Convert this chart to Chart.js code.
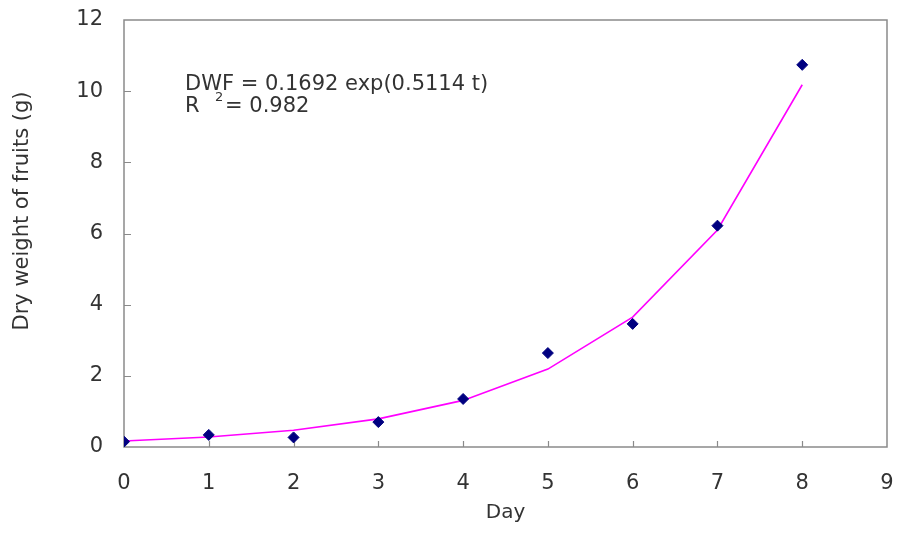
<!DOCTYPE html>
<html>
<head>
<meta charset="utf-8">
<script src="https://cdn.jsdelivr.net/npm/chart.js@4/dist/chart.umd.min.js"></script>
<style>
  html, body { margin: 0; padding: 0; background: #ffffff; }
  #wrap { width: 898px; height: 536px; }
</style>
</head>
<body>
<div id="wrap"><canvas id="c" width="898" height="536"></canvas></div>
<script>
// Fruit dry weight by day, with the fitted exponential curve
const days = [0, 1, 2, 3, 4, 5, 6, 7, 8];
const dryWeight = [0.15, 0.34, 0.27, 0.70, 1.35, 2.64, 3.46, 6.22, 10.74];
const fittedWeight = [0.17, 0.28, 0.47, 0.79, 1.31, 2.19, 3.65, 6.10, 10.18];
const xTicks = [0, 1, 2, 3, 4, 5, 6, 7, 8, 9];
const yTicks = [0, 2, 4, 6, 8, 10, 12];
const equationText = 'DWF = 0.1692 exp(0.5114 t)';
const r2Text = '= 0.982';
const yTitle = 'Dry weight of fruits (g)';

const FONT = 'DejaVu Sans';
const TEXT = '#333333';
const AXIS = '#8a8a8a';

const observed = days.map((d, i) => ({ x: d, y: dryWeight[i] }));
const fitted = days.map((d, i) => ({ x: d, y: fittedWeight[i] }));

// Plot frame, inward tick marks, y title and the equation label
const decorations = {
  id: 'decorations',
  beforeDatasetsDraw(chart) {
    const { ctx, chartArea: a, scales: { x, y } } = chart;
    ctx.save();
    ctx.strokeStyle = AXIS;
    ctx.lineWidth = 1.5;
    ctx.strokeRect(a.left, a.top, a.right - a.left, a.bottom - a.top);
    ctx.lineWidth = 1.2;
    ctx.beginPath();
    xTicks.slice(1, -1).forEach(v => {
      const px = Math.round(x.getPixelForValue(v)) + 0.5;
      ctx.moveTo(px, a.bottom);
      ctx.lineTo(px, a.bottom - 6);
    });
    yTicks.slice(1, -1).forEach(v => {
      const py = Math.round(y.getPixelForValue(v)) + 0.5;
      ctx.moveTo(a.left, py);
      ctx.lineTo(a.left + 7, py);
    });
    ctx.stroke();

    ctx.fillStyle = TEXT;
    ctx.textBaseline = 'alphabetic';
    ctx.textAlign = 'left';
    const tx = a.left + 61;
    ctx.font = '21px "' + FONT + '"';
    ctx.fillText(equationText, tx, a.top + 70);
    ctx.fillText('R', tx, a.top + 92);
    ctx.font = '13px "' + FONT + '"';
    ctx.fillText('2', tx + 30, a.top + 81);
    ctx.font = '21px "' + FONT + '"';
    ctx.fillText(r2Text, tx + 40, a.top + 92);

    // y axis title, set a little above the plot's middle
    ctx.save();
    ctx.translate(23, a.top + 191);
    ctx.rotate(-Math.PI / 2);
    ctx.textAlign = 'center';
    ctx.textBaseline = 'middle';
    ctx.fillText(yTitle, 0, 0);
    ctx.restore();
    ctx.restore();
  }
};

new Chart(document.getElementById('c'), {
  type: 'line',
  data: {
    datasets: [
      {
        label: 'Fitted',
        data: fitted,
        borderColor: '#ff00ff',
        borderWidth: 1.6,
        pointRadius: 0,
        fill: false,
        tension: 0,
        order: 2
      },
      {
        label: 'Dry weight',
        data: observed,
        showLine: false,
        pointStyle: 'rectRot',
        pointRadius: 5.5,
        pointBackgroundColor: '#000080',
        pointBorderColor: '#000080',
        pointBorderWidth: 1,
        order: 1
      }
    ]
  },
  options: {
    responsive: false,
    animation: false,
    events: [],
    layout: { padding: { left: 0, right: 11, top: 20, bottom: 0 } },
    plugins: { legend: { display: false }, tooltip: { enabled: false } },
    scales: {
      x: {
        type: 'linear',
        min: 0,
        max: 9,
        afterBuildTicks(s) { s.ticks = xTicks.map(v => ({ value: v })); },
        ticks: { padding: 24, color: TEXT, font: { family: FONT, size: 21 } },
        grid: { display: false, drawTicks: false },
        border: { display: false },
        title: { display: true, text: 'Day', color: TEXT, font: { family: FONT, size: 20 }, padding: { top: 0, bottom: 11 } },
        afterFit(s) { s.height = 89; s.paddingLeft = 0; s.paddingRight = 0; }
      },
      y: {
        type: 'linear',
        min: 0,
        max: 12,
        afterBuildTicks(s) { s.ticks = yTicks.map(v => ({ value: v })); },
        ticks: { padding: 21, color: TEXT, font: { family: FONT, size: 21 } },
        grid: { display: false, drawTicks: false },
        border: { display: false },
        title: { display: false },
        afterFit(s) { s.width = 124; s.paddingTop = 0; s.paddingBottom = 0; }
      }
    }
  },
  plugins: [decorations]
});
</script>
</body>
</html>
